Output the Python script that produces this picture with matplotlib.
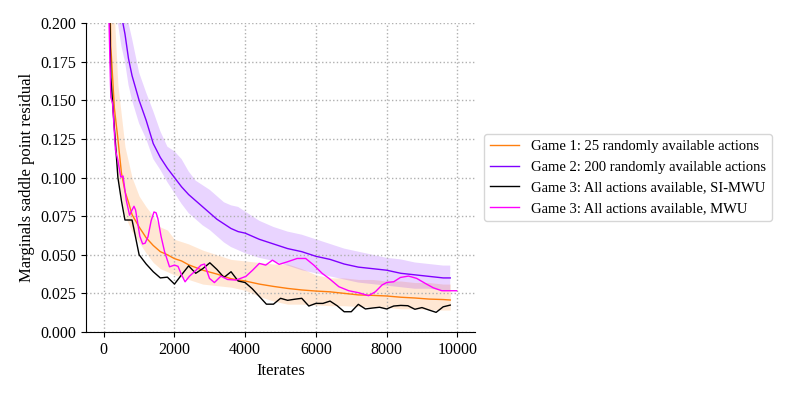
import matplotlib
matplotlib.use("Agg")
import matplotlib.pyplot as plt
import numpy as np

plt.rcParams["font.family"] = ["Liberation Serif", "DejaVu Serif"]
plt.rcParams["font.size"] = 11

# Game 1: 25 randomly available actions (mean and band)
g1_x = [100, 200, 300, 400, 500, 600, 700, 800, 1000, 1200, 1400, 1600, 1800, 2000,
        2200, 2400, 2800, 3200, 3600, 4000, 4400, 4800, 5200, 5600, 6000, 6400,
        6800, 7200, 7600, 8000, 8400, 8800, 9200, 9600, 9800]
g1_y = [0.35, 0.185, 0.145, 0.125, 0.103, 0.091, 0.084, 0.076, 0.068, 0.061, 0.056,
        0.052, 0.050, 0.0475, 0.046, 0.0435, 0.040, 0.0375, 0.0345, 0.033, 0.031,
        0.0295, 0.0282, 0.0272, 0.0265, 0.026, 0.025, 0.024, 0.0237, 0.0233,
        0.0225, 0.022, 0.0213, 0.021, 0.0207]
g1_band_x = [200, 400, 600, 800, 1000, 1200, 1400, 1600, 1800, 2000, 2400, 2800,
             3200, 3600, 4000, 4400, 4800, 5200, 5600, 6000, 6400, 6800, 7200,
             7600, 8000, 8400, 8800, 9200, 9600, 9800]
g1_hi = [0.25, 0.16, 0.12, 0.100, 0.088, 0.081, 0.075, 0.068, 0.066, 0.060, 0.057,
         0.053, 0.050, 0.047, 0.046, 0.045, 0.044, 0.044, 0.041, 0.037, 0.035,
         0.035, 0.034, 0.034, 0.033, 0.033, 0.032, 0.032, 0.031, 0.031]
g1_lo = [0.15, 0.10, 0.075, 0.065, 0.058, 0.051, 0.045, 0.041, 0.039, 0.037, 0.034,
         0.031, 0.030, 0.029, 0.027, 0.023, 0.020, 0.018, 0.018, 0.0175, 0.017,
         0.017, 0.0165, 0.016, 0.016, 0.015, 0.015, 0.0145, 0.0142, 0.0142]

# Game 2: 200 randomly available actions
g2_x = [200, 300, 400, 500, 600, 700, 800, 1000, 1200, 1400, 1600, 1800, 2000, 2200,
        2400, 2600, 2800, 3000, 3200, 3400, 3600, 3800, 4000, 4400, 4800, 5200,
        5600, 6000, 6400, 6800, 7200, 7600, 8000, 8400, 8800, 9200, 9600, 9800]
g2_y = [0.33, 0.27, 0.23, 0.205, 0.193, 0.177, 0.166, 0.150, 0.137, 0.122, 0.113,
        0.106, 0.100, 0.094, 0.089, 0.085, 0.081, 0.077, 0.073, 0.070, 0.067, 0.065,
        0.064, 0.060, 0.057, 0.054, 0.052, 0.049, 0.047, 0.044, 0.042, 0.041,
        0.040, 0.038, 0.037, 0.036, 0.035, 0.035]
g2_hi = [0.38, 0.31, 0.26, 0.23, 0.215, 0.20, 0.19, 0.168, 0.155, 0.143, 0.130,
         0.120, 0.117, 0.112, 0.104, 0.098, 0.095, 0.092, 0.088, 0.084, 0.082,
         0.081, 0.078, 0.072, 0.068, 0.065, 0.063, 0.060, 0.057, 0.054, 0.052,
         0.050, 0.048, 0.047, 0.045, 0.044, 0.043, 0.043]
g2_lo = [0.29, 0.23, 0.20, 0.185, 0.175, 0.160, 0.150, 0.135, 0.125, 0.112, 0.105,
         0.097, 0.090, 0.083, 0.077, 0.073, 0.069, 0.066, 0.062, 0.058, 0.055,
         0.053, 0.051, 0.048, 0.046, 0.043, 0.040, 0.038, 0.036, 0.034, 0.032,
         0.031, 0.030, 0.029, 0.028, 0.028, 0.027, 0.027]

# Game 3: all actions available, SI-MWU
g3s_x = [100, 200, 300, 400, 500, 600, 800, 850, 1000, 1200, 1400, 1600, 1800, 2000,
         2200, 2400, 2600, 2800, 3000, 3200, 3400, 3600, 3800, 4000, 4200, 4400,
         4600, 4800, 5000, 5200, 5400, 5600, 5800, 6000, 6200, 6400, 6600, 6800,
         7000, 7200, 7400, 7600, 7800, 8000, 8200, 8400, 8600, 8800, 9000, 9200,
         9400, 9600, 9800]
g3s_y = [0.30, 0.165, 0.132, 0.100, 0.085, 0.0725, 0.0725, 0.067, 0.050, 0.044,
         0.039, 0.035, 0.0355, 0.031, 0.037, 0.0428, 0.038, 0.041, 0.0448, 0.0405,
         0.0353, 0.039, 0.033, 0.032, 0.028, 0.023, 0.018, 0.018, 0.0218, 0.0205,
         0.0212, 0.0218, 0.0168, 0.0185, 0.0185, 0.0200, 0.017, 0.0131, 0.0131,
         0.0179, 0.0149, 0.0155, 0.0160, 0.0149, 0.0168, 0.0172, 0.0170, 0.0147,
         0.0158, 0.0142, 0.0127, 0.0163, 0.0174]

# Game 3: all actions available, MWU
g3m_x = [100, 150, 200, 250, 330, 400, 480, 545, 640, 730, 800, 855, 900, 950, 1020,
         1100, 1170, 1250, 1340, 1420, 1480, 1530, 1620, 1720, 1860, 2000, 2100,
         2200, 2300, 2420, 2610, 2750, 2850, 2990, 3130, 3315, 3500, 3740, 4020,
         4210, 4400, 4580, 4770, 4960, 5190, 5470, 5710, 5940, 6180, 6370, 6650,
         6930, 7210, 7490, 7680, 7870, 8010, 8200, 8390, 8620, 8850, 9090, 9320,
         9560, 9790, 9980]
g3m_y = [0.30, 0.20, 0.152, 0.148, 0.118, 0.111, 0.1003, 0.101, 0.085, 0.0756,
         0.079, 0.0814, 0.079, 0.072, 0.062, 0.057, 0.0575, 0.0616, 0.072, 0.0777,
         0.0772, 0.0735, 0.062, 0.052, 0.0422, 0.0433, 0.0425, 0.037, 0.0325,
         0.036, 0.040, 0.0433, 0.044, 0.0347, 0.0320, 0.0362, 0.034, 0.0336, 0.036,
         0.040, 0.0444, 0.0433, 0.0465, 0.0438, 0.0454, 0.0476, 0.0476, 0.0433,
         0.0379, 0.0347, 0.0293, 0.0267, 0.0254, 0.0235, 0.026, 0.0304, 0.0321,
         0.0325, 0.0353, 0.0362, 0.0347, 0.0315, 0.0286, 0.0267, 0.0267, 0.0267]

ORANGE = "#ff7f0e"
PURPLE = "#7f00ff"
MAGENTA = "#ff00ff"

fig = plt.figure(figsize=(7.97, 3.99), dpi=100)
ax = fig.add_axes([0.108, 0.168, 0.488, 0.774])

ax.fill_between(g1_band_x, g1_lo, g1_hi, color=ORANGE, alpha=0.18, lw=0)
ax.fill_between(g2_x, g2_lo, g2_hi, color=PURPLE, alpha=0.17, lw=0)
ax.plot(g1_x, g1_y, color=ORANGE, lw=1, label="Game 1: 25 randomly available actions")
ax.plot(g2_x, g2_y, color=PURPLE, lw=1, label="Game 2: 200 randomly available actions")
ax.plot(g3s_x, g3s_y, color="black", lw=1, label="Game 3: All actions available, SI-MWU")
ax.plot(g3m_x, g3m_y, color=MAGENTA, lw=1, label="Game 3: All actions available, MWU")

ax.set_xlim(-500, 10500)
ax.set_ylim(0, 0.2)
ax.set_xticks(np.arange(0, 10001, 2000))
ax.set_yticks(np.arange(0, 0.2001, 0.025))
ax.yaxis.set_major_formatter(matplotlib.ticker.FormatStrFormatter("%.3f"))
ax.tick_params(labelsize=11.5)
ax.set_xlabel("Iterates", fontsize=12)
ax.set_ylabel("Marginals saddle point residual", fontsize=12)
ax.grid(linestyle=":", color="#b0b0b0", lw=1)
ax.spines["top"].set_visible(False)
ax.spines["right"].set_visible(False)

ax.legend(loc="center left", bbox_to_anchor=(1.005, 0.5), fontsize=10.5,
          edgecolor="#cccccc", fancybox=True)

fig.savefig("out.png", dpi=100)
